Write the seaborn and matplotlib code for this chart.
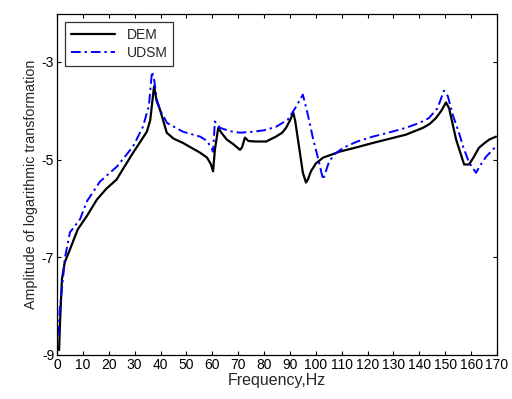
import matplotlib
matplotlib.use("Agg")
import matplotlib.pyplot as plt
import seaborn as sns
import pandas as pd

dem_f = [0.8, 1.2, 1.9, 3, 5, 8, 11.6, 15.4, 19, 23, 26, 29.4, 32, 34.7, 36, 37.5, 38.5, 39.8,
         42.4, 45, 48.7, 52, 55.3, 58, 59.5, 60.3, 61, 62.3, 63.5, 65.6, 68, 70.7, 71.5, 72.6,
         74, 76.9, 80.8, 84.6, 87, 88.5, 90, 91.3, 92, 93.1, 95, 96.2, 97, 98.1, 100, 102.8,
         106, 109, 115, 122, 128, 134.8, 141.4, 144, 146.4, 148.5, 150.3, 151.5, 154.2, 157.3,
         159.2, 161, 163, 165, 167, 169.6]
dem_y = [-8.9, -8.3, -7.45, -7.1, -6.84, -6.43, -6.15, -5.82, -5.6, -5.41, -5.15, -4.86, -4.65,
         -4.43, -4.2, -3.5, -3.8, -3.98, -4.45, -4.57, -4.66, -4.76, -4.86, -4.96, -5.1, -5.24,
         -4.8, -4.35, -4.45, -4.59, -4.68, -4.8, -4.75, -4.55, -4.62, -4.63, -4.63, -4.53, -4.45,
         -4.35, -4.2, -4.04, -4.2, -4.59, -5.27, -5.47, -5.4, -5.24, -5.08, -4.96, -4.9, -4.84,
         -4.76, -4.66, -4.58, -4.49, -4.35, -4.27, -4.15, -4.0, -3.83, -3.95, -4.59, -5.1, -5.1,
         -4.95, -4.76, -4.67, -4.59, -4.53]

udsm_f = [0.5, 1, 1.9, 3.1, 5, 8.9, 11.6, 16.6, 23.2, 29.4, 33.2, 35.5, 36.7, 37.5, 38.6, 40,
          42.5, 48.7, 55.3, 58, 59.5, 60.3, 61, 63, 67, 70.7, 75.7, 80, 84.6, 89.2, 92, 95, 97,
          99, 101, 102.8, 105, 107, 110.5, 116, 122, 128, 134.8, 140, 143.7, 147, 149.5, 151,
          153, 155.3, 157, 159.2, 161.9, 163.5, 165.8, 169.6]
udsm_y = [-8.6, -8.1, -7.65, -7.0, -6.49, -6.22, -5.85, -5.45, -5.14, -4.73, -4.33, -3.9, -3.2,
          -3.35, -3.78, -4.0, -4.25, -4.43, -4.53, -4.62, -4.75, -4.84, -4.22, -4.35, -4.42,
          -4.45, -4.43, -4.4, -4.33, -4.18, -3.95, -3.67, -4.1, -4.59, -5.0, -5.41, -5.06, -4.9,
          -4.76, -4.63, -4.53, -4.45, -4.35, -4.25, -4.15, -3.95, -3.59, -3.7, -4.1, -4.45,
          -4.75, -5.06, -5.27, -5.12, -4.94, -4.73]

x_ticks = list(range(0, 171, 10))
y_ticks = [-9, -7, -5, -3]

sns.set_style("ticks")
plt.rcParams['font.family'] = ['Liberation Sans', 'DejaVu Sans']
plt.rcParams['axes.unicode_minus'] = False

fig = plt.figure(figsize=(5.12, 3.99), dpi=100)
ax = fig.add_axes([57/512, 1 - 355/399, 440/512, 341/399])

df_dem = pd.DataFrame({"f": dem_f, "y": dem_y})
df_udsm = pd.DataFrame({"f": udsm_f, "y": udsm_y})
sns.lineplot(data=df_dem, x="f", y="y", ax=ax, color="black", linewidth=1.6, label="DEM",
             sort=False, estimator=None)
sns.lineplot(data=df_udsm, x="f", y="y", ax=ax, color="blue", linewidth=1.4, label="UDSM",
             sort=False, estimator=None, linestyle=(0, (5, 2, 1.2, 2)))

ax.set_xlim(0, 170)
ax.set_ylim(-9, -2.02)
ax.set_xticks(x_ticks)
ax.set_yticks(y_ticks)
ax.set_xlabel("Frequency,Hz", fontsize=11.5, labelpad=1)
ax.set_ylabel("Amplitude of logarithmic transformation", fontsize=10.3, labelpad=3)
ax.tick_params(direction="in", top=True, right=True, labelsize=10, length=3, width=0.8,
               colors="black", pad=2)
for s in ax.spines.values():
    s.set_visible(True)
    s.set_color("black")
    s.set_linewidth(0.9)

leg = ax.legend(loc="upper left", fontsize=10, frameon=True, fancybox=False,
                edgecolor="black", borderaxespad=0.6, handlelength=3.2, borderpad=0.4,
                labelspacing=0.3)
leg.get_frame().set_linewidth(0.9)

fig.savefig("out.png", dpi=100)
